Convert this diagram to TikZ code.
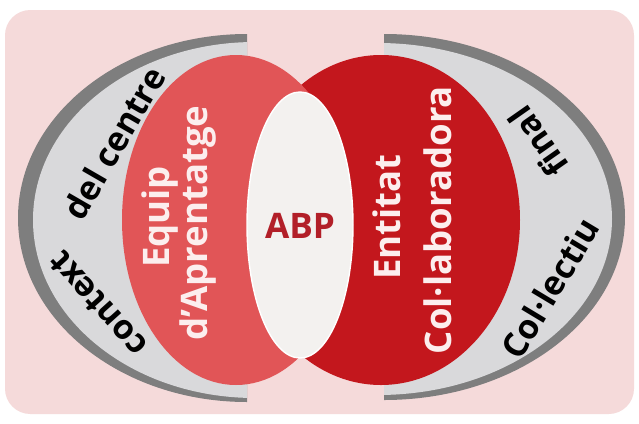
\documentclass[tikz,border=0pt]{standalone}
\usepackage{fontspec}
\setmainfont{Open Sans}[Ligatures=NoCommon]
\usepackage{tikz}
\usetikzlibrary{positioning}

\definecolor{bgpink}{HTML}{F5DADA}
\definecolor{ringdark}{HTML}{7E7E7E}
\definecolor{ringlight}{HTML}{D9D9DB}
\definecolor{equipred}{HTML}{E15557}
\definecolor{entitatred}{HTML}{C3171D}
\definecolor{abpwhite}{HTML}{F3F1EF}
\definecolor{abpred}{HTML}{B21F28}
\definecolor{labelwhite}{HTML}{FCEEEE}

\begin{document}
\begin{tikzpicture}[x=0.025cm, y=-0.025cm,
    ringtext/.style={font=\fontsize{24}{26}\selectfont\bfseries, text=black, inner sep=0pt},
    redtext/.style={font=\fontsize{26}{28}\selectfont\bfseries, text=labelwhite, rotate=90, inner sep=0pt}]

    \useasboundingbox (0,0) rectangle (639,423);
    \fill[white] (0,0) rectangle (639,423);
    \fill[bgpink, rounded corners=18pt] (5,10) rectangle (634,414);

    % outer rings
    \begin{scope}
        \clip (0,0) rectangle (247,423);
        \fill[ringdark] (247,218) ellipse [x radius=229, y radius=184];
        \fill[ringlight] (255,220) ellipse [x radius=222, y radius=178];
    \end{scope}
    \begin{scope}
        \clip (384,0) rectangle (639,423);
        \fill[ringdark] (384,217) ellipse [x radius=241, y radius=183];
        \fill[ringlight] (378,219) ellipse [x radius=234, y radius=176];
    \end{scope}

    % the two groups and the overlap
    \fill[entitatred] (381,220) ellipse [x radius=139, y radius=165];
    \fill[equipred] (236,220) ellipse [x radius=114, y radius=165];
    \fill[abpwhite, draw=white, line width=1pt] (300,225) ellipse [x radius=53, y radius=133];

    \node[font=\fontsize{25}{27}\selectfont\bfseries, text=abpred] (abp) at (300,226) {ABP};

    \node[redtext] (equip) at (160,217) {Equip};
    \node[redtext] (aprenentatge) at (198,223) {d'Aprentatge};
    \node[redtext] (entitat) at (387,217) {Entitat};
    \node[redtext] (collaboradora) at (438,220) {Col·laboradora};

    \node[ringtext, rotate=132] (context) at (98,304) {context};
    \node[ringtext, rotate=60] (centre) at (114,143) {del centre};
    \node[ringtext, rotate=59] (collectiu) at (550,288) {Col·lectiu};
    \node[ringtext, rotate=125] (final) at (538,142) {final};
\end{tikzpicture}
\end{document}
